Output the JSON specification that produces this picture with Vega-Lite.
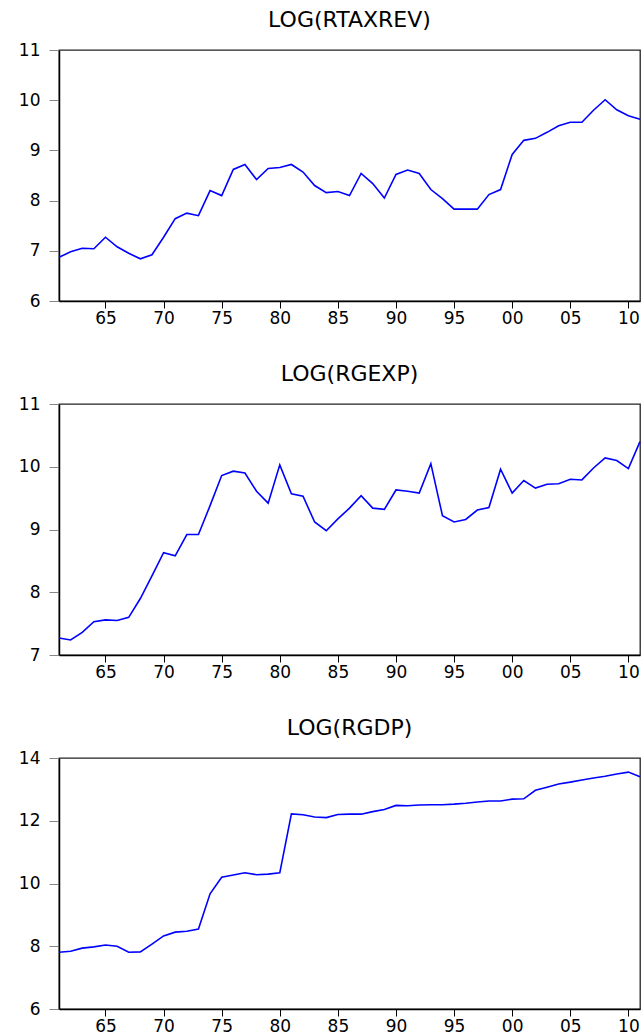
{
  "$schema": "https://vega.github.io/schema/vega-lite/v6.json",
  "padding": {"left": 0, "top": 8, "right": 0, "bottom": 0},
  "background": "white",
  "spacing": 103,
  "bounds": "flush",
  "data": {"values": [
    {"year": 1961, "rtaxrev": 6.87, "rgexp": 7.27, "rgdp": 7.81},
    {"year": 1962, "rtaxrev": 6.98, "rgexp": 7.24, "rgdp": 7.84},
    {"year": 1963, "rtaxrev": 7.05, "rgexp": 7.36, "rgdp": 7.94},
    {"year": 1964, "rtaxrev": 7.04, "rgexp": 7.53, "rgdp": 7.98},
    {"year": 1965, "rtaxrev": 7.27, "rgexp": 7.56, "rgdp": 8.04},
    {"year": 1966, "rtaxrev": 7.08, "rgexp": 7.55, "rgdp": 8.00},
    {"year": 1967, "rtaxrev": 6.95, "rgexp": 7.60, "rgdp": 7.81},
    {"year": 1968, "rtaxrev": 6.84, "rgexp": 7.90, "rgdp": 7.82},
    {"year": 1969, "rtaxrev": 6.92, "rgexp": 8.26, "rgdp": 8.07},
    {"year": 1970, "rtaxrev": 7.27, "rgexp": 8.63, "rgdp": 8.33},
    {"year": 1971, "rtaxrev": 7.64, "rgexp": 8.58, "rgdp": 8.45},
    {"year": 1972, "rtaxrev": 7.75, "rgexp": 8.92, "rgdp": 8.48},
    {"year": 1973, "rtaxrev": 7.70, "rgexp": 8.92, "rgdp": 8.55},
    {"year": 1974, "rtaxrev": 8.20, "rgexp": 9.38, "rgdp": 9.67},
    {"year": 1975, "rtaxrev": 8.10, "rgexp": 9.86, "rgdp": 10.20},
    {"year": 1976, "rtaxrev": 8.62, "rgexp": 9.93, "rgdp": 10.27},
    {"year": 1977, "rtaxrev": 8.72, "rgexp": 9.90, "rgdp": 10.34},
    {"year": 1978, "rtaxrev": 8.42, "rgexp": 9.61, "rgdp": 10.28},
    {"year": 1979, "rtaxrev": 8.64, "rgexp": 9.42, "rgdp": 10.30},
    {"year": 1980, "rtaxrev": 8.66, "rgexp": 10.03, "rgdp": 10.34},
    {"year": 1981, "rtaxrev": 8.72, "rgexp": 9.57, "rgdp": 12.22},
    {"year": 1982, "rtaxrev": 8.57, "rgexp": 9.53, "rgdp": 12.19},
    {"year": 1983, "rtaxrev": 8.30, "rgexp": 9.12, "rgdp": 12.12},
    {"year": 1984, "rtaxrev": 8.16, "rgexp": 8.98, "rgdp": 12.10},
    {"year": 1985, "rtaxrev": 8.18, "rgexp": 9.17, "rgdp": 12.20},
    {"year": 1986, "rtaxrev": 8.10, "rgexp": 9.34, "rgdp": 12.21},
    {"year": 1987, "rtaxrev": 8.54, "rgexp": 9.54, "rgdp": 12.21},
    {"year": 1988, "rtaxrev": 8.34, "rgexp": 9.34, "rgdp": 12.29},
    {"year": 1989, "rtaxrev": 8.05, "rgexp": 9.32, "rgdp": 12.36},
    {"year": 1990, "rtaxrev": 8.52, "rgexp": 9.63, "rgdp": 12.49},
    {"year": 1991, "rtaxrev": 8.61, "rgexp": 9.61, "rgdp": 12.48},
    {"year": 1992, "rtaxrev": 8.54, "rgexp": 9.58, "rgdp": 12.50},
    {"year": 1993, "rtaxrev": 8.22, "rgexp": 10.05, "rgdp": 12.51},
    {"year": 1994, "rtaxrev": 8.04, "rgexp": 9.22, "rgdp": 12.51},
    {"year": 1995, "rtaxrev": 7.83, "rgexp": 9.12, "rgdp": 12.53},
    {"year": 1996, "rtaxrev": 7.83, "rgexp": 9.16, "rgdp": 12.56},
    {"year": 1997, "rtaxrev": 7.83, "rgexp": 9.31, "rgdp": 12.60},
    {"year": 1998, "rtaxrev": 8.12, "rgexp": 9.35, "rgdp": 12.63},
    {"year": 1999, "rtaxrev": 8.22, "rgexp": 9.96, "rgdp": 12.63},
    {"year": 2000, "rtaxrev": 8.92, "rgexp": 9.58, "rgdp": 12.69},
    {"year": 2001, "rtaxrev": 9.20, "rgexp": 9.78, "rgdp": 12.70},
    {"year": 2002, "rtaxrev": 9.24, "rgexp": 9.66, "rgdp": 12.97},
    {"year": 2003, "rtaxrev": 9.36, "rgexp": 9.72, "rgdp": 13.07},
    {"year": 2004, "rtaxrev": 9.49, "rgexp": 9.73, "rgdp": 13.17},
    {"year": 2005, "rtaxrev": 9.56, "rgexp": 9.80, "rgdp": 13.23},
    {"year": 2006, "rtaxrev": 9.56, "rgexp": 9.79, "rgdp": 13.30},
    {"year": 2007, "rtaxrev": 9.80, "rgexp": 9.98, "rgdp": 13.36},
    {"year": 2008, "rtaxrev": 10.01, "rgexp": 10.14, "rgdp": 13.42},
    {"year": 2009, "rtaxrev": 9.81, "rgexp": 10.10, "rgdp": 13.49},
    {"year": 2010, "rtaxrev": 9.69, "rgexp": 9.97, "rgdp": 13.55},
    {"year": 2011, "rtaxrev": 9.62, "rgexp": 10.40, "rgdp": 13.40}
  ]},
  "config": {
    "view": {"stroke": "#222", "strokeWidth": 1.3},
    "font": "DejaVu Sans",
    "title": {"font": "DejaVu Sans", "fontSize": 22, "fontWeight": "normal", "color": "#000", "baseline": "alphabetic", "offset": 9, "frame": "group", "anchor": "middle"},
    "axis": {"labelFont": "DejaVu Sans", "labelFontSize": 17, "labelColor": "#000", "domainColor": "#000", "domainWidth": 1.5, "grid": false},
    "axisX": {"tickSize": 7, "labelPadding": 2, "labelFlush": false, "tickColor": "#000", "tickWidth": 1},
    "axisY": {"tickSize": 10, "labelPadding": 9, "tickColor": "#888", "tickWidth": 1, "minExtent": 58, "maxExtent": 58},
    "line": {"color": "#0000FF", "strokeWidth": 1.6}
  },
  "vconcat": [
    {
      "title": "LOG(RTAXREV)",
      "width": 581,
      "height": 251,
      "mark": {"type": "line"},
      "encoding": {
        "x": {"field": "year", "type": "quantitative", "scale": {"domain": [1961, 2011], "nice": false, "zero": false},
              "axis": {"title": null, "values": [1965, 1970, 1975, 1980, 1985, 1990, 1995, 2000, 2005, 2010], "format": "d", "labelExpr": "substring(datum.label, 2, 4)"}},
        "y": {"field": "rtaxrev", "type": "quantitative", "scale": {"domain": [6, 11], "nice": false, "zero": false},
              "axis": {"title": null, "values": [6, 7, 8, 9, 10, 11], "format": "d"}}
      }
    },
    {
      "title": "LOG(RGEXP)",
      "width": 581,
      "height": 251,
      "mark": {"type": "line"},
      "encoding": {
        "x": {"field": "year", "type": "quantitative", "scale": {"domain": [1961, 2011], "nice": false, "zero": false},
              "axis": {"title": null, "values": [1965, 1970, 1975, 1980, 1985, 1990, 1995, 2000, 2005, 2010], "format": "d", "labelExpr": "substring(datum.label, 2, 4)"}},
        "y": {"field": "rgexp", "type": "quantitative", "scale": {"domain": [7, 11], "nice": false, "zero": false},
              "axis": {"title": null, "values": [7, 8, 9, 10, 11], "format": "d"}}
      }
    },
    {
      "title": "LOG(RGDP)",
      "width": 581,
      "height": 251,
      "mark": {"type": "line"},
      "encoding": {
        "x": {"field": "year", "type": "quantitative", "scale": {"domain": [1961, 2011], "nice": false, "zero": false},
              "axis": {"title": null, "values": [1965, 1970, 1975, 1980, 1985, 1990, 1995, 2000, 2005, 2010], "format": "d", "labelExpr": "substring(datum.label, 2, 4)"}},
        "y": {"field": "rgdp", "type": "quantitative", "scale": {"domain": [6, 14], "nice": false, "zero": false},
              "axis": {"title": null, "values": [6, 8, 10, 12, 14], "format": "d"}}
      }
    }
  ]
}
